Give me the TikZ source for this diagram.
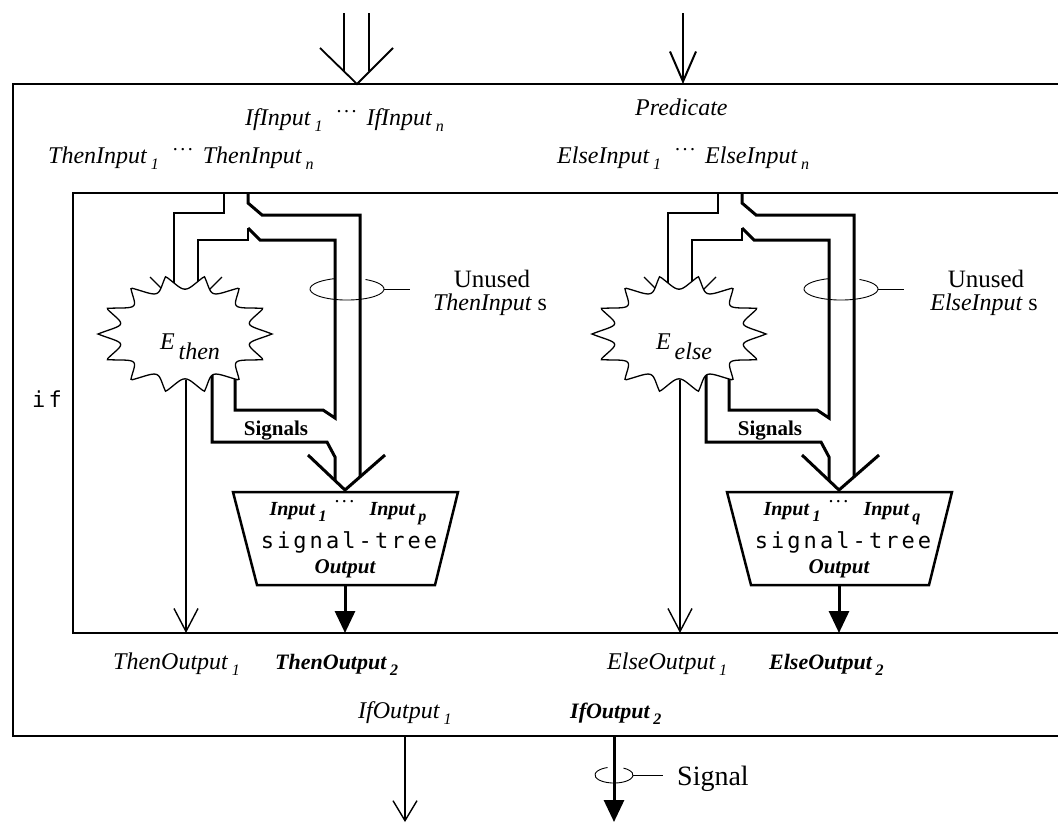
\documentclass[tikz,border=0pt]{standalone}
\usepackage{fontspec}
\setmainfont{Liberation Serif}
\newfontfamily\codefont[LetterSpace=14]{DejaVu Sans Mono}
\usetikzlibrary{arrows.meta}

% label fonts, subscripts and the row of dots
\newcommand{\lblfont}{\fontsize{24}{28}\selectfont\itshape}
\newcommand{\blblfont}{\fontsize{22}{26}\selectfont\bfseries\itshape}
\newcommand{\lsub}[1]{\,\raisebox{-6pt}{\fontsize{16}{16}\selectfont #1}}
\newcommand{\dotrow}[1][14pt]{\hspace{#1}\raisebox{13pt}{\fontsize{20}{20}\selectfont\upshape\mdseries .\kern2.5pt.\kern2.5pt.}\hspace{10pt}}

\tikzset{
  frame/.style={line width=1.2pt},
  wire/.style={line width=1.3pt},
  bus/.style={line width=3pt},
  barb/.style={line width=1.8pt},
  openv/.tip={Straight Barb[length=23pt,width=24pt,line width=1.4pt]},
  solidv/.tip={Triangle[length=22pt,width=20pt]},
  lbl/.style={font=\lblfont, inner sep=0pt, anchor=base west},
  blbl/.style={font=\blblfont, inner sep=0pt, anchor=base west},
}

\begin{document}
\begin{tikzpicture}[x=1pt,y=1pt,yscale=-1]
\useasboundingbox (0,0) rectangle (1058,825);

% outer and inner boxes, right side runs off
\draw[frame] (1058,84) -- (13,84) -- (13,736) -- (1058,736);
\draw[frame] (1058,193) -- (73,193) -- (73,633) -- (1058,633);

% inputs from above
\coordinate (if top) at (357,84);
\coordinate (pred src) at (683,13);
\coordinate (pred top) at (683,84);
\draw[wire] (344,13) -- (344,72);
\draw[wire] (369,13) -- (369,71);
\draw[barb] (320,48) -- (if top) -- (393,48);
\draw[wire, -{Straight Barb[length=30pt,width=26pt,line width=2pt]}] (pred src) -- (pred top);

% Text Node
\node[lbl] (ifin) at (245,125) {IfInput\lsub{1}\dotrow IfInput\lsub{n}};
% Text Node
\node[lbl] (pred) at (635,115) {Predicate};
% Text Node
\node[lbl] (thenin) at (48,163) {ThenInput\lsub{1}\dotrow ThenInput\lsub{n}};
% Text Node
\node[lbl] (elsein) at (557,163) {ElseInput\lsub{1}\dotrow ElseInput\lsub{n}};
% Text Node
\node[font=\codefont\fontsize{22}{26}\selectfont, inner sep=0pt, anchor=base west] (iflbl) at (32,407) {if};

% the two branches
\foreach \dx/\br/\Br/\k in {0/then/Then/p,494/else/Else/q}{
\begin{scope}[xshift=\dx]
  % bundle split below the inputs
  \draw[wire] (224,193) -- (224,213) -- (174,213) -- (174,301);
  \draw[bus] (248,193) -- (248,203) -- (262,215) -- (360,215) -- (360,477);
  \draw[wire] (198,301) -- (198,240) -- (248,240) -- (248,228);
  \draw[bus] (248,228) -- (260,240) -- (335,240) -- (335,418) -- (323,410) -- (235,410) -- (235,370);
  \draw[wire] (150,277) -- (186,313) -- (222,277);
  % signals and first output
  \draw[bus] (212,370) -- (212,442) -- (327,442) -- (335,457) -- (335,481);
  \draw[wire, -openv] (186,380) -- (186,633);
  % expression
  \draw[wire, fill=white] plot[domain=0:360, samples=361, variable=\t]
    ({185+87*(1-0.24*abs(sin(7*\t)))*cos(\t)}, {334+59*(1-0.24*abs(sin(7*\t)))*sin(\t)}) -- cycle;
  \node[inner sep=0pt] (E\br) at (190,347) {\fontsize{24}{26}\selectfont\itshape E\,\raisebox{-10pt}{\br}};
  % signal-tree
  \draw[bus] (308,455) -- (345,490) -- (385,455);
  \draw[line width=2.5pt, line join=miter, fill=white] (233,492) -- (458,492) -- (435,585) -- (257,585) -- cycle;
  \node[font=\fontsize{20}{24}\selectfont\bfseries\itshape, inner sep=0pt, anchor=base] (tree in \br) at (348,515) {Input\lsub{1}\dotrow[8pt] Input\lsub{\k}};
  \node[font=\codefont\fontsize{22}{26}\selectfont, inner sep=0pt, anchor=base] (tree \br) at (349,548) {signal-tree};
  \node[font=\fontsize{21}{24}\selectfont\bfseries\itshape, inner sep=0pt, anchor=base] (tree out \br) at (345,573) {Output};
  \coordinate (tree bot \br) at (345,585);
  \coordinate (out2 \br) at (345,633);
  \draw[bus, -solidv] (tree bot \br) -- (out2 \br);
  % unused inputs
  \draw[line width=0.9pt] (365.5,279.5) arc[start angle=300, end angle=610, x radius=37, y radius=11];
  \draw[line width=0.9pt] (384,289) -- (410,289);
  \node[font=\fontsize{25}{28}\selectfont, inner sep=0pt, anchor=base] (unused \br) at (492,287) {Unused};
  \node[lbl, anchor=base] (unused name \br) at (490,310) {\Br Input {\upshape s}};
  % Text Node
  \node[font=\fontsize{21}{24}\selectfont\bfseries, inner sep=0pt, anchor=base] (signals \br) at (276,435) {Signals};
  % Text Node
  \node[lbl] (\br out1) at (113,669) {\Br Output\lsub{1}};
  % Text Node
  \node[blbl] (\br out2) at (275,669) {\Br Output\lsub{2}};
\end{scope}
}

% outputs below
\node[lbl] (ifout1) at (358,718) {IfOutput\lsub{1}};
\node[blbl] (ifout2) at (570,718) {IfOutput\lsub{2}};
\coordinate (out1 top) at (405,736);
\coordinate (out1 end) at (405,822);
\coordinate (out2 top) at (614,736);
\coordinate (out2 end) at (614,822);
\draw[wire, -{Straight Barb[length=20pt,width=24pt,line width=1.4pt]}] (out1 top) -- (out1 end);
\draw[bus, -solidv] (out2 top) -- (out2 end);
\draw[line width=0.9pt] (623.5,768.1) arc[start angle=300, end angle=610, x radius=19, y radius=8];
\draw[line width=0.9pt] (633,775) -- (663,775);
\node[font=\fontsize{28}{30}\selectfont, inner sep=0pt, anchor=base west] (signal) at (677,785) {Signal};
\end{tikzpicture}
\end{document}
